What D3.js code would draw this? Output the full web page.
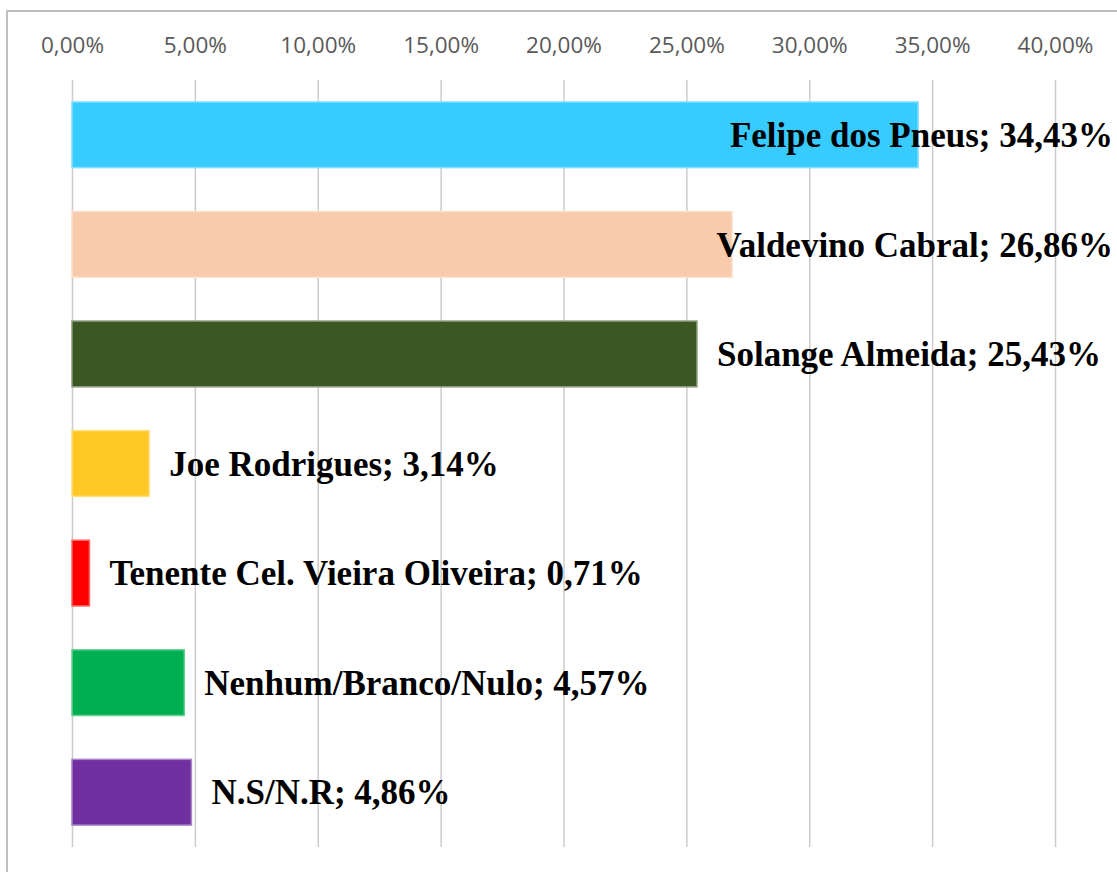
<!DOCTYPE html>
<html lang="pt">
<head>
    <meta charset="UTF-8">
    <title>Intenção de voto</title>
    <script src="https://d3js.org/d3.v7.min.js"></script>
    <style>
        body { margin: 0; background: #fff; }
    </style>
</head>
<body>
    <svg id="chart" width="1117" height="872"></svg>
    <script>
        const candidates = [
            "Felipe dos Pneus",
            "Valdevino Cabral",
            "Solange Almeida",
            "Joe Rodrigues",
            "Tenente Cel. Vieira Oliveira",
            "Nenhum/Branco/Nulo",
            "N.S/N.R"
        ];
        const values = [34.43, 26.86, 25.43, 3.14, 0.71, 4.57, 4.86];
        const colors = ["#38cbff", "#f8cbad", "#3b5723", "#ffc826", "#ff0000", "#00b050", "#7030a0"];
        const ticks = [0, 5, 10, 15, 20, 25, 30, 35, 40];

        const data = candidates.map((c, i) => ({name: c, value: values[i], color: colors[i]}));

        const svg = d3.select("#chart");
        const plot = {left: 72, right: 1055, top: 80, bottom: 847};
        const labelLimit = 1113;

        // chart area frame (cut off at right/bottom like the source)
        svg.append("rect")
            .attr("x", 7).attr("y", 11)
            .attr("width", 1200).attr("height", 1000)
            .attr("fill", "none")
            .attr("stroke", "#bfbfbf")
            .attr("stroke-width", 2);

        const x = d3.scaleLinear()
            .domain([0, 40])
            .range([plot.left, plot.right]);

        const y = d3.scaleBand()
            .domain(candidates)
            .range([plot.top, plot.bottom])
            .paddingInner(0.4)
            .paddingOuter(0.2);

        const fmt = d => d3.format(".2f")(d).replace(".", ",") + "%";

        // gridlines
        svg.append("g")
            .attr("transform", `translate(0,${plot.top})`)
            .call(d3.axisBottom(x).tickValues(ticks).tickSize(plot.bottom - plot.top).tickFormat(""))
            .call(g => g.select(".domain").remove())
            .call(g => g.selectAll("line").attr("stroke", "#cccccc").attr("stroke-width", 1.5));

        // tick labels on top
        svg.append("g")
            .attr("transform", `translate(0,45)`)
            .call(d3.axisTop(x).tickValues(ticks).tickSize(0).tickPadding(0).tickFormat(fmt))
            .call(g => g.select(".domain").remove())
            .call(g => g.selectAll("text")
                .attr("dy", "0.35em")
                .attr("fill", "#595959")
                .style("font-family", "'Open Sans', sans-serif")
                .style("font-size", "22.5px"));

        svg.append("g")
            .selectAll("rect")
            .data(data)
            .enter()
            .append("rect")
            .attr("x", x(0))
            .attr("y", d => y(d.name))
            .attr("width", d => x(d.value) - x(0))
            .attr("height", y.bandwidth())
            .attr("fill", d => d.color)
            .attr("stroke", d => d3.interpolateRgb(d.color, "#ffffff")(0.4))
            .attr("stroke-width", 1.5);

        const labels = svg.append("g")
            .selectAll("text")
            .data(data)
            .enter()
            .append("text")
            .attr("y", d => y(d.name) + y.bandwidth() / 2)
            .attr("dy", "0.35em")
            .style("font-family", "'Liberation Serif', 'Times New Roman', serif")
            .style("font-weight", "bold")
            .style("font-size", "35px")
            .attr("fill", "#000")
            .text(d => `${d.name}; ${d.value.toFixed(2).replace(".", ",")}%`);

        labels.attr("x", function(d) {
            const w = this.getComputedTextLength();
            return Math.min(x(d.value) + 20, labelLimit - w);
        });
    </script>
</body>
</html>
